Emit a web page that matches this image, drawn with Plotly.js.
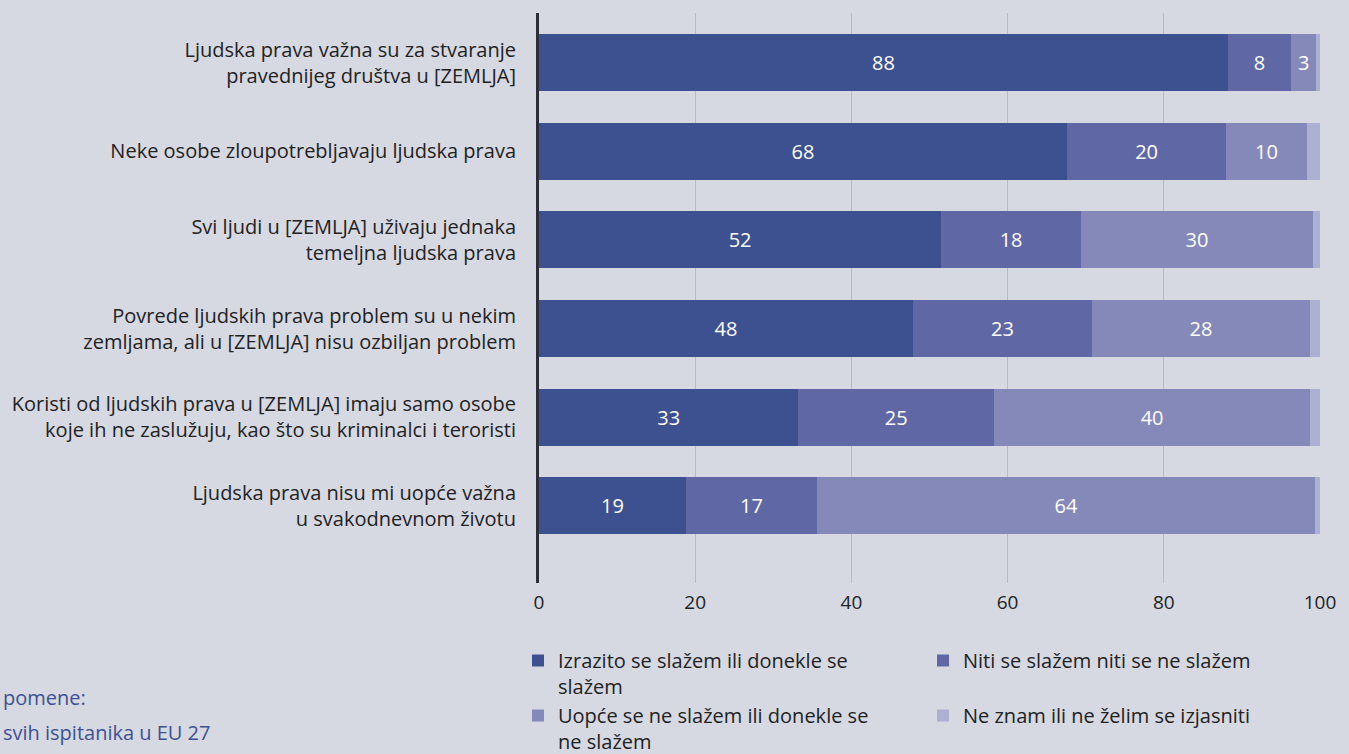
<!DOCTYPE html>
<html>
<head>
<meta charset="utf-8">
<script src="https://cdn.plot.ly/plotly-3.0.1.min.js"></script>
<style>
html,body{margin:0;padding:0;background:#d6d9e2;}
#chart{width:1349px;height:754px;}
</style>
</head>
<body>
<div id="chart"></div>
<script>
const categories = [
  "Ljudska prava važna su za stvaranje<br>pravednijeg društva u [ZEMLJA]",
  "Neke osobe zloupotrebljavaju ljudska prava",
  "Svi ljudi u [ZEMLJA] uživaju jednaka<br>temeljna ljudska prava",
  "Povrede ljudskih prava problem su u nekim<br>zemljama, ali u [ZEMLJA] nisu ozbiljan problem",
  "Koristi od ljudskih prava u [ZEMLJA] imaju samo osobe<br>koje ih ne zaslužuju, kao što su kriminalci i teroristi",
  "Ljudska prava nisu mi uopće važna<br>u svakodnevnom životu"
];
const seriesNames = [
  "Izrazito se slažem ili donekle se<br>slažem",
  "Niti se slažem niti se ne slažem",
  "Uopće se ne slažem ili donekle se<br>ne slažem",
  "Ne znam ili ne želim se izjasniti"
];
const agree    = [88.2, 67.6, 51.5, 47.9, 33.2, 18.8];
const neutral  = [8.1, 20.4, 17.9, 22.9, 25.1, 16.8];
const disagree = [3.2, 10.3, 29.7, 27.9, 40.4, 63.8];
const dontKnow = [0.5, 1.7, 0.9, 1.3, 1.3, 0.6];
const agreeLabels    = ["88", "68", "52", "48", "33", "19"];
const neutralLabels  = ["8", "20", "18", "23", "25", "17"];
const disagreeLabels = ["3", "10", "30", "28", "40", "64"];
const tickVals = [0, 20, 40, 60, 80, 100];
const noteLines = ["pomene:", "svih ispitanika u EU 27"];

const colors = ["#3d5191", "#5f68a4", "#8589ba", "#aeb0d3"];
const values = [agree, neutral, disagree, dontKnow];
const labels = [agreeLabels, neutralLabels, disagreeLabels, null];
const legendIds = ["legend", "legend2", "legend", "legend2"];
const legendGroups = [undefined, "g2a", undefined, "g2b"];

const FONT = "Open Sans, Noto Sans, sans-serif";
const traces = values.map((v, i) => ({
  type: "bar",
  orientation: "h",
  name: seriesNames[i],
  legend: legendIds[i],
  legendgroup: legendGroups[i],
  x: v,
  y: categories,
  marker: {color: colors[i], line: {width: 0}},
  text: labels[i] || undefined,
  texttemplate: labels[i] ? "%{text}" : "",
  textposition: labels[i] ? "inside" : "none",
  insidetextanchor: "middle",
  constraintext: "none",
  textfont: {color: "#ffffff", size: 20, family: FONT},
  hoverinfo: "x+y+name"
}));

const margin = {l: 539, r: 29, t: 13, b: 171, autoexpand: false};
const plotW = 1349 - margin.l - margin.r;
const plotH = 754 - margin.t - margin.b;

const annotations = noteLines.map((t, i) => ({
  text: t,
  xref: "paper", yref: "paper",
  x: -(margin.l - 1) / plotW, xanchor: "left",
  y: -([697, 732][i] - (margin.t + plotH)) / plotH, yanchor: "middle",
  showarrow: false,
  font: {family: FONT, size: 20, color: "#3d5191"}
}));

function legendAt(px, order, gap) {
  return {
    orientation: "v",
    x: (px - margin.l) / plotW,
    xanchor: "left",
    y: -(641 - (margin.t + plotH)) / plotH,
    yanchor: "top",
    valign: "top",
    traceorder: order,
    tracegroupgap: gap,
    bgcolor: "rgba(0,0,0,0)",
    font: {size: 20, color: "#222222", family: FONT},
    itemclick: false,
    itemdoubleclick: false
  };
}

const layout = {
  width: 1349, height: 754,
  paper_bgcolor: "#d6d9e2",
  plot_bgcolor: "#d6d9e2",
  margin: margin,
  barmode: "stack",
  bargap: 0.358,
  showlegend: true,
  font: {family: FONT, size: 20, color: "#222222"},
  xaxis: {
    range: [0, 100],
    tickvals: tickVals,
    ticktext: tickVals.map(String),
    showgrid: true,
    gridcolor: "#b7bbc5",
    gridwidth: 1,
    zeroline: false,
    showline: false,
    ticks: "",
    ticklabelstandoff: 6,
    tickfont: {size: 19, color: "#222222"},
    fixedrange: true
  },
  yaxis: {
    type: "category",
    range: [5.87, -0.56],
    showgrid: false,
    zeroline: false,
    showline: true,
    linecolor: "#2b3038",
    linewidth: 3,
    ticks: "",
    ticklabelstandoff: 16,
    tickfont: {size: 20, color: "#222222"},
    fixedrange: true
  },
  legend: legendAt(518, "normal", 0),
  legend2: legendAt(923, "grouped", 26),
  annotations: annotations
};

Plotly.newPlot("chart", traces, layout, {displayModeBar: false});
</script>
</body>
</html>
